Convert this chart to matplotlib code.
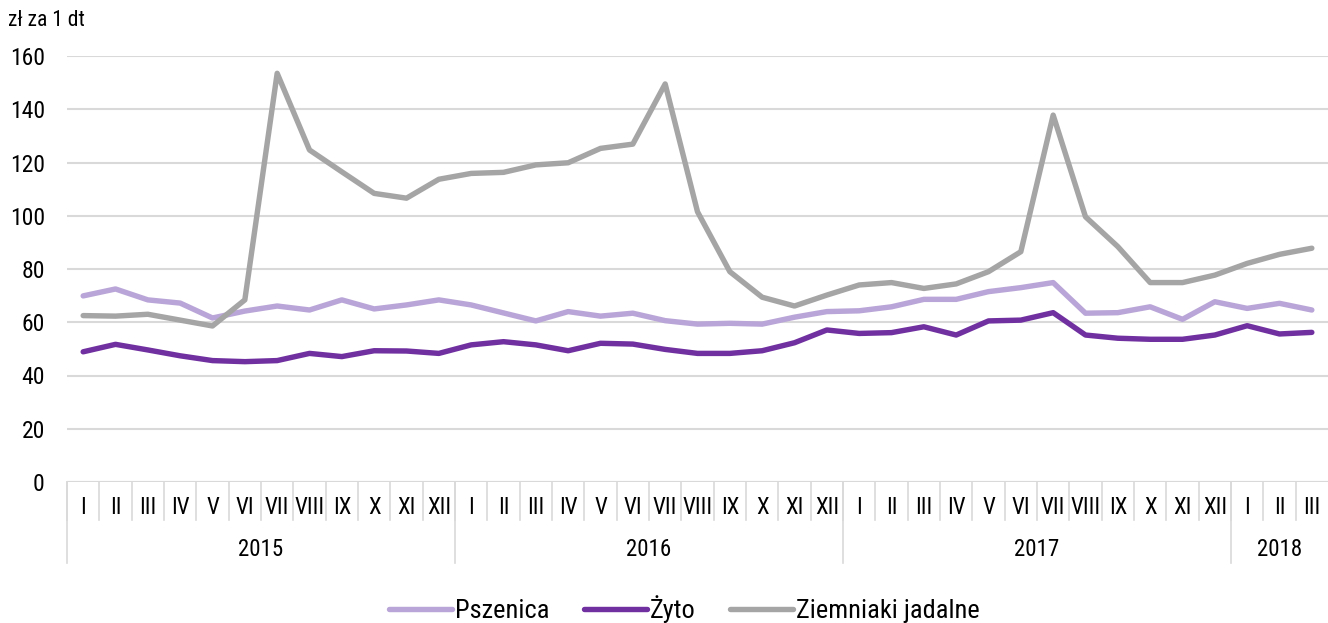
import matplotlib
matplotlib.use("Agg")
import matplotlib.pyplot as plt
from matplotlib import font_manager
from matplotlib.transforms import blended_transform_factory

# --- data (zł za 1 dt), monthly 2015-I .. 2018-III ---
months = ["I", "II", "III", "IV", "V", "VI", "VII", "VIII", "IX", "X", "XI", "XII"]
years = ["2015", "2016", "2017", "2018"]
months_per_year = [12, 12, 12, 3]

pszenica = [69.9, 72.5, 68.4, 67.2, 61.6, 64.2, 66.1, 64.6, 68.4, 65.0, 66.5, 68.4,
            66.5, 63.5, 60.5, 64.0, 62.3, 63.4, 60.6, 59.3, 59.6, 59.3, 61.9, 64.0,
            64.3, 65.8, 68.6, 68.6, 71.5, 73.0, 74.9, 63.4, 63.6, 65.8, 61.1, 67.7,
            65.2, 67.1, 64.6]
zyto = [48.9, 51.7, 49.6, 47.4, 45.6, 45.2, 45.6, 48.3, 47.1, 49.3, 49.2, 48.3,
        51.5, 52.7, 51.5, 49.3, 52.1, 51.8, 49.8, 48.3, 48.3, 49.3, 52.3, 57.1,
        55.8, 56.1, 58.3, 55.2, 60.5, 60.8, 63.6, 55.2, 54.0, 53.6, 53.6, 55.2,
        58.7, 55.6, 56.2]
ziemniaki = [62.5, 62.3, 63.0, 60.8, 58.6, 68.4, 153.5, 124.7, 116.5, 108.4, 106.6, 113.7,
             115.9, 116.3, 119.1, 119.9, 125.3, 126.9, 149.5, 101.5, 79.0, 69.4, 66.1, 70.2,
             74.0, 74.9, 72.7, 74.4, 79.0, 86.5, 137.8, 99.6, 88.4, 74.9, 74.9, 77.7,
             82.1, 85.5, 87.8]

series_names = ["Pszenica", "Żyto", "Ziemniaki jadalne"]
colors = ["#B9A5D7", "#7030A0", "#A5A5A5"]


def pick_font(names):
    for name in names:
        try:
            font_manager.findfont(name, fallback_to_default=False)
            return name
        except ValueError:
            continue
    return "DejaVu Sans"


main_font = pick_font(["Liberation Sans Narrow", "Roboto Condensed", "Open Sans", "Roboto"])
plt.rcParams["font.family"] = [main_font, "DejaVu Sans"]

fig = plt.figure(figsize=(13.28, 6.23), dpi=100)
ax = fig.add_axes([67 / 1328, 1 - 482 / 623, 1 - 67 / 1328, 426 / 623])

x = list(range(len(pszenica)))
for vals, name, col in zip([pszenica, zyto, ziemniaki], series_names, colors):
    ax.plot(x, vals, color=col, lw=3.9, label=name, solid_joinstyle="round",
            solid_capstyle="round", zorder=3)

ax.set_xlim(-0.5, len(x) - 0.5)
ax.set_ylim(0, 160)
ax.set_yticks(range(0, 161, 20))
ax.yaxis.grid(True, color="#D9D9D9", lw=1.5)
ax.set_axisbelow(True)
for s in ax.spines.values():
    s.set_visible(False)
ax.tick_params(axis="y", length=0, pad=16, labelsize=17)
ax.set_xticks([])

# two-level category axis
trans = blended_transform_factory(ax.transData, ax.transAxes)
month_bottom = -38 / 426
year_bottom = -81 / 426
ax.axhline(0, color="#D9D9D9", lw=1.5, zorder=1)
labels = []
for yr, n in zip(years, months_per_year):
    labels.extend(months[:n])
for i, lab in enumerate(labels):
    ax.text(i, -26 / 426, lab, transform=trans, ha="center", va="center", fontsize=16.5)
    ax.plot([i - 0.5, i - 0.5], [0, month_bottom], transform=trans, color="#D9D9D9",
            lw=1.2, clip_on=False)
start = 0
for yr, n in zip(years, months_per_year):
    ax.plot([start - 0.5, start - 0.5], [0, year_bottom], transform=trans, color="#D9D9D9",
            lw=1.2, clip_on=False)
    ax.text(start + n / 2 - 0.5, -68 / 426, yr, transform=trans, ha="center", va="center",
            fontsize=16.5)
    start += n

fig.text(8 / 1328, 1 - 20 / 623, "zł za 1 dt", ha="left", va="center", fontsize=15.5)

fig.legend(loc="center", bbox_to_anchor=(684 / 1328, 1 - 609 / 623), ncol=3, frameon=False,
           fontsize=19, handlelength=2.4, handletextpad=0.1, columnspacing=1.3)

fig.savefig("out.png", dpi=100)
